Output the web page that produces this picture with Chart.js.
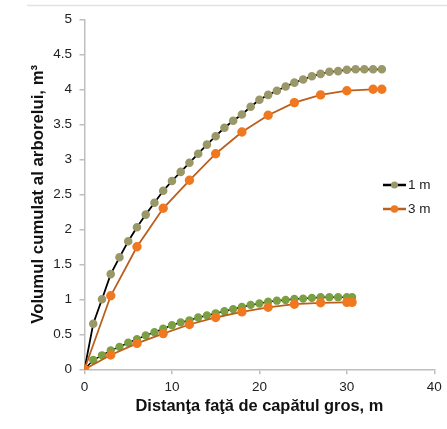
<!DOCTYPE html>
<html>
<head>
<meta charset="utf-8">
<script src="https://cdn.jsdelivr.net/npm/chart.js@4"></script>
<style>
html,body{margin:0;padding:0;background:#fff;}
#wrap{width:447px;height:429px;position:relative;}
</style>
</head>
<body>
<div id="wrap"><canvas id="c" width="447" height="429"></canvas></div>
<script>
// ---- data ----
const xTicks = [0, 10, 20, 30, 40];
const yTicks = [0, 0.5, 1, 1.5, 2, 2.5, 3, 3.5, 4, 4.5, 5];
const seriesNames = ["1 m", "3 m"];

const bigX1 = [0,1,2,3,4,5,6,7,8,9,10,11,12,13,14,15,16,17,18,19,20,21,22,23,24,25,26,27,28,29,30,31,32,33,34];
const bigY1 = [0,0.65,1.0,1.36,1.6,1.83,2.03,2.21,2.38,2.55,2.69,2.82,2.95,3.08,3.21,3.33,3.45,3.55,3.64,3.75,3.85,3.92,3.98,4.04,4.095,4.14,4.186,4.22,4.25,4.26,4.28,4.286,4.286,4.286,4.286];

const bigX3 = [0,3,6,9,12,15,18,21,24,27,30,33,34];
const bigY3 = [0,1.05,1.75,2.3,2.70,3.08,3.39,3.63,3.81,3.92,3.98,4.0,4.0];

const smallX1 = [0,1,2,3,4,5,6,7,8,9,10,11,12,13,14,15,16,17,18,19,20,21,22,23,24,25,26,27,28,29,30,30.6];
const smallY1 = [0,0.133,0.2,0.27,0.32,0.38,0.43,0.485,0.53,0.58,0.63,0.67,0.70,0.74,0.77,0.80,0.83,0.86,0.89,0.92,0.94,0.966,0.98,0.99,1.004,1.01,1.02,1.03,1.03,1.03,1.03,1.03];

const smallX3 = [0,3,6,9,12,15,18,21,24,27,30,30.6];
const smallY3 = [0,0.204,0.37,0.51,0.64,0.74,0.82,0.886,0.93,0.95,0.957,0.957];

const xTitle = "Distanţa faţă de capătul gros, m";
const yTitle = "Volumul cumulat al arborelui, m³";

function pts(xs, ys){ return xs.map((x,i)=>({x:x, y:ys[i]})); }

const C1_LINE = '#000000', C1_PT = '#9A9868', C1_PT_LOW = '#7BA043';
const C3_LINE = '#BC5F1C', C3_PT = '#F07820';
const FONT = "'Liberation Sans', Arial, sans-serif";

const legendPlugin = {
  id: 'customLegend',
  afterDatasetsDraw(chart){
    const ctx = chart.ctx;
    const items = [
      {label: seriesNames[0], line: C1_LINE, pt: C1_PT, r: 3.5},
      {label: seriesNames[1], line: C3_LINE, pt: C3_PT, r: 3.8}
    ];
    const ys = [185, 209];
    ctx.save();
    items.forEach((it, i) => {
      const y = ys[i];
      ctx.strokeStyle = it.line; ctx.lineWidth = 2.5;
      ctx.beginPath(); ctx.moveTo(383, y); ctx.lineTo(406, y); ctx.stroke();
      ctx.fillStyle = it.pt; ctx.beginPath(); ctx.arc(394.5, y, it.r, 0, Math.PI*2); ctx.fill();
      ctx.fillStyle = '#222'; ctx.font = "13.5px " + FONT;
      ctx.textBaseline = 'middle'; ctx.textAlign = 'left';
      ctx.fillText(it.label, 408, y + 0.5);
    });
    ctx.restore();
  },
  beforeDraw(chart){
    const ctx = chart.ctx;
    ctx.save();
    ctx.fillStyle = '#fff'; ctx.fillRect(0,0,chart.width,chart.height);
    ctx.strokeStyle = '#E2E2E2'; ctx.lineWidth = 1.5;
    ctx.beginPath(); ctx.moveTo(27, 5.5); ctx.lineTo(447, 5.5); ctx.stroke();
    ctx.restore();
  }
};

new Chart(document.getElementById('c'), {
  type: 'line',
  data: {
    datasets: [
      {label: seriesNames[1], data: pts(bigX3, bigY3), borderColor: C3_LINE, backgroundColor: C3_PT,
        pointBackgroundColor: C3_PT, pointBorderColor: C3_PT, pointRadius: 3.8, borderWidth: 1.8, order: 1},
      {label: seriesNames[1], data: pts(smallX3, smallY3), borderColor: C3_LINE, backgroundColor: C3_PT,
        pointBackgroundColor: C3_PT, pointBorderColor: C3_PT, pointRadius: 3.8, borderWidth: 1.8, order: 2},
      {label: seriesNames[0], data: pts(bigX1, bigY1), borderColor: C1_LINE, backgroundColor: C1_PT,
        pointBackgroundColor: C1_PT, pointBorderColor: C1_PT, pointRadius: 3.4, borderWidth: 1.8, order: 3},
      {label: seriesNames[0], data: pts(smallX1, smallY1), borderColor: C1_LINE, backgroundColor: C1_PT_LOW,
        pointBackgroundColor: C1_PT_LOW, pointBorderColor: C1_PT_LOW, pointRadius: 3.4, borderWidth: 1.5, order: 4}
    ]
  },
  options: {
    responsive: false,
    animation: false,
    devicePixelRatio: 1,
    layout: {padding: {left: 0, right: 12.7, top: 19.3, bottom: 0}},
    plugins: {legend: {display: false}, tooltip: {enabled: false}},
    elements: {line: {tension: 0, fill: false}, point: {borderWidth: 0, hoverRadius: 4}},
    scales: {
      x: {
        type: 'linear', min: 0, max: 40,
        afterBuildTicks: (s) => { s.ticks = xTicks.map(v => ({value: v})); },
        afterFit: (s) => { s.height = 59.7; },
        ticks: {color: '#222', font: {family: FONT, size: 13.5}, padding: 5, maxRotation: 0,
          callback: (v) => String(v)},
        grid: {drawOnChartArea: false, drawTicks: true, tickLength: 5, color: '#BEBEBE', lineWidth: 1.5},
        border: {color: '#BEBEBE', width: 1.5},
        title: {display: true, text: xTitle, color: '#111', font: {family: FONT, size: 16.4, weight: 'bold'},
          padding: {top: 0, bottom: 12.2}}
      },
      y: {
        type: 'linear', min: 0, max: 5,
        afterBuildTicks: (s) => { s.ticks = yTicks.map(v => ({value: v})); },
        afterFit: (s) => { s.width = 84.5; },
        ticks: {color: '#222', font: {family: FONT, size: 13.5}, padding: 7.5,
          callback: (v) => String(v)},
        grid: {drawOnChartArea: false, drawTicks: true, tickLength: 5, color: '#BEBEBE', lineWidth: 1.5},
        border: {color: '#BEBEBE', width: 1.5},
        title: {display: true, text: yTitle, color: '#111', font: {family: FONT, size: 16.8, weight: 'bold'},
          padding: {top: 28.5, bottom: 0}}
      }
    }
  },
  plugins: [legendPlugin]
});
</script>
</body>
</html>
